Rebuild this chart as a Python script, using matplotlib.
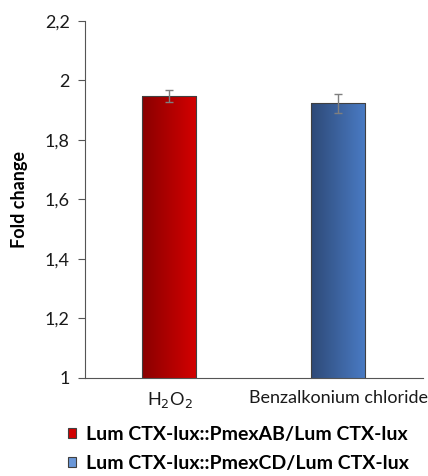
import numpy as np
import matplotlib
matplotlib.use('Agg')
import matplotlib.pyplot as plt
from matplotlib.patches import Patch
from matplotlib.colors import LinearSegmentedColormap

plt.rcParams['font.family'] = ['Lato', 'DejaVu Sans']

categories = ['H$_2$O$_2$', 'Benzalkonium chloride']
fold_change = [1.948, 1.923]
errors = [0.020, 0.032]
series_labels = ['Lum CTX-lux::PmexAB/Lum CTX-lux',
                 'Lum CTX-lux::PmexCD/Lum CTX-lux']
yticks = [1.0, 1.2, 1.4, 1.6, 1.8, 2.0, 2.2]
ytick_labels = ['1', '1,2', '1,4', '1,6', '1,8', '2', '2,2']

# left-to-right shading of each bar
gradients = [('#8a0000', '#d40000'), ('#2e4a78', '#4a7bc4')]
legend_colors = ['#d00000', '#6a97d8']

fig = plt.figure(figsize=(4.28, 4.76), dpi=100)
ax = fig.add_axes([0.1986, 0.2059, 0.7894, 0.7500])

x = np.arange(len(categories))
width = 0.32
bars = ax.bar(x, fold_change, width=width, bottom=0, color='none',
              edgecolor='#404040', linewidth=0.8, zorder=3)
for bar, (c0, c1) in zip(bars, gradients):
    cmap = LinearSegmentedColormap.from_list('g', [c0, c1])
    grad = np.linspace(0, 1, 64).reshape(1, -1)
    x0 = bar.get_x()
    im = ax.imshow(grad, cmap=cmap, aspect='auto', zorder=2,
                   extent=[x0, x0 + bar.get_width(), 1.0, bar.get_height()])
    im.set_clip_path(bar)

ax.errorbar(x, fold_change, yerr=errors, fmt='none', ecolor='#7f7f7f',
            elinewidth=1.0, capsize=3, capthick=1.0, zorder=4)

ax.set_xlim(-0.5, 1.5)
ax.set_ylim(1.0, 2.2)
ax.set_yticks(yticks)
ax.set_yticklabels(ytick_labels, fontsize=13, color='#1a1a1a')
ax.set_xticks(x)
ax.set_xticklabels(categories, fontsize=13, color='#1a1a1a')
ax.tick_params(axis='x', length=0, pad=9)
ax.tick_params(axis='y', length=5, width=0.8, color='#555555', pad=6)
ax.set_ylabel('Fold change', fontsize=13, fontweight='bold', labelpad=12)

for side in ['top', 'right']:
    ax.spines[side].set_visible(False)
ax.spines['left'].set_color('#555555')
ax.spines['bottom'].set_color('#555555')
ax.spines['left'].set_linewidth(0.8)
ax.spines['bottom'].set_linewidth(0.8)

handles = [Patch(facecolor=c, edgecolor='#404040', linewidth=0.8)
           for c in legend_colors]
fig.legend(handles, series_labels, loc='upper left',
           bbox_to_anchor=(0.158, 0.105), frameon=False,
           prop={'weight': 'bold', 'size': 14}, handlelength=0.45,
           handleheight=0.45, handletextpad=0.5, labelspacing=0.6,
           borderaxespad=0, borderpad=0)

fig.savefig('out.png', dpi=100)
